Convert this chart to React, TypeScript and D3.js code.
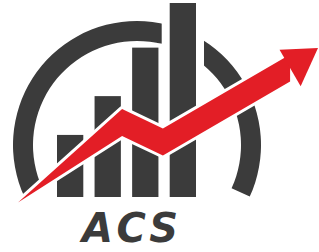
import { FC, useEffect } from 'react';
import * as d3 from 'd3';

// bars of the logo
const categories = ['Q1', 'Q2', 'Q3', 'Q4'];
const barValues = [32, 52, 77, 100];

// trend arrow: x on a 0..10 axis, y on the same 0..100 axis as the bars
const trendX = [0, 3.47, 4.83, 9.07];
const trendY = [-2.8, 38.4, 28.4, 66.5];
const tipX = 10;
const tipY = 76.8;

const label = 'ACS';

const W = 319;
const H = 252;
const DARK = '#3b3b3b';
const RED = '#e31e26';

const App: FC = () => {
  useEffect(() => {
    document.body.style.margin = '0';
  }, []);

  const xBar = d3.scaleBand<string>().domain(categories).range([57, 196]).paddingInner(0.3);
  const y = d3.scaleLinear().domain([0, 100]).range([197, 3]);
  const xTrend = d3.scaleLinear().domain([0, 10]).range([18, 318]);

  // ring behind the bars
  const ring = d3
    .arc<unknown>()
    .innerRadius(104)
    .outerRadius(124)
    .startAngle(-2.0)
    .endAngle(2.0);

  // arrow shaft: vertical thickness, tapered to a point at the tail
  const thick = 27;
  const pts = trendX.map((v, i) => ({
    x: xTrend(v),
    y: y(trendY[i]),
    w: i === 0 ? 0 : thick,
  }));
  const upper = pts.map((p) => [p.x, p.y - p.w / 2] as [number, number]);
  const lower = pts.map((p) => [p.x, p.y + p.w / 2] as [number, number]).reverse();
  const shaft = d3.line()([...upper, ...lower]) + 'Z';

  // arrow head
  const base = pts[pts.length - 1];
  const prev = pts[pts.length - 2];
  const dx = base.x - prev.x;
  const dy = base.y - prev.y;
  const len = Math.hypot(dx, dy);
  const px = -dy / len;
  const py = dx / len;
  const wing = 21;
  const head =
    d3.line()([
      [base.x - px * wing, base.y - py * wing],
      [xTrend(tipX), y(tipY)],
      [base.x + px * wing, base.y + py * wing],
    ]) + 'Z';

  return (
    <svg width={W} height={H} style={{ display: 'block', background: '#fff' }}>
      <path d={ring(null) || ''} transform="translate(137,145)" fill={DARK} />
      {categories.map((c, i) => (
        <rect
          key={'h' + c}
          x={(xBar(c) || 0) - 8}
          y={y(barValues[i]) - 4}
          width={xBar.bandwidth() + 16}
          height={y(0) - y(barValues[i]) + 4}
          fill="#fff"
        />
      ))}
      {categories.map((c, i) => (
        <rect
          key={c}
          x={xBar(c)}
          y={y(barValues[i])}
          width={xBar.bandwidth()}
          height={y(0) - y(barValues[i])}
          fill={DARK}
        />
      ))}
      <g fill="#fff" stroke="#fff" strokeWidth={6} strokeLinejoin="round">
        <path d={shaft} />
        <path d={head} />
      </g>
      <g fill={RED}>
        <path d={shaft} />
        <path d={head} />
      </g>
      <text
        x={82}
        y={242}
        fontFamily="'DejaVu Sans', sans-serif"
        fontWeight={700}
        fontStyle="italic"
        fontSize={40}
        fill={DARK}
        textLength={96}
        lengthAdjust="spacing"
      >
        {label}
      </text>
    </svg>
  );
};

export default App;
